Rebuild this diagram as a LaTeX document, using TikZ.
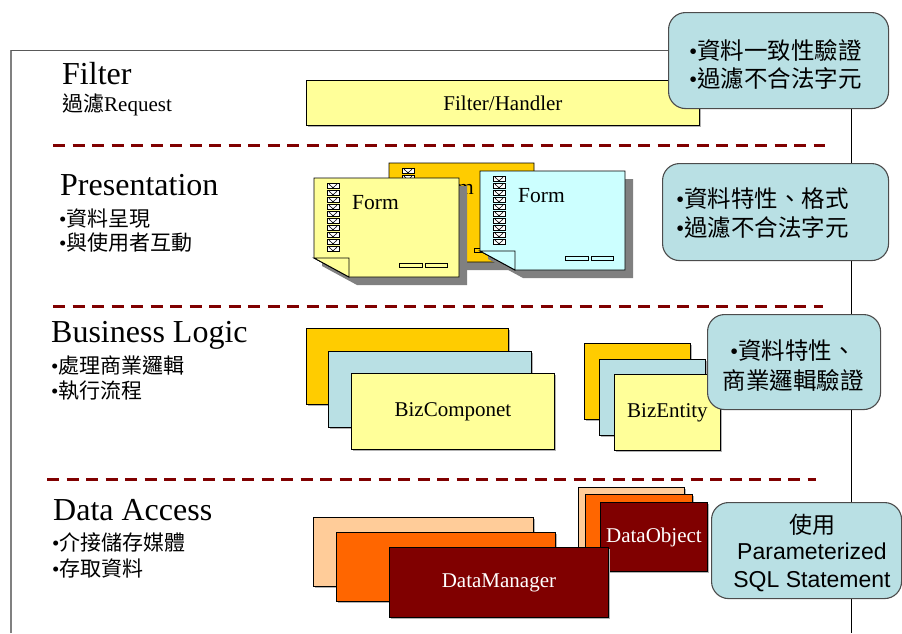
\documentclass[tikz,border=0pt]{standalone}
\usepackage{fontspec}
\setmainfont{Liberation Serif}
\newfontfamily\cjk{Noto Sans CJK TC}
\newfontfamily\arial{Liberation Sans}
\usetikzlibrary{shadows}
\definecolor{lyel}{HTML}{FFFF99}
\definecolor{gold}{HTML}{FFCC00}
\definecolor{lcyan}{HTML}{CCFFFF}
\definecolor{lblue}{RGB}{185,224,228}
\definecolor{peach}{HTML}{FFCC99}
\definecolor{orng}{HTML}{FF6600}
\definecolor{dred}{HTML}{800000}
\newcommand\bu{{\rmfamily •}}
\newcommand\drawform[4]{%
 \begin{scope}[shift={(#1,#2)}]
  \fill[gray] (8,8) -- (153,8) -- (153,107) -- (43,107) -- (8,88) -- cycle;
  \draw[fill=#3, line width=0.9pt] (0,0) -- (145,0) -- (145,99) -- (35,99) -- (0,80) -- cycle;
  \draw[fill=#3, line width=0.9pt] (0,80) -- (35,80) -- (35,99) -- cycle;
  \foreach \i in {0,...,9} {
    \draw[fill=white, line width=0.7pt] (13,5+7*\i) rectangle ++(12,5.5);
    \draw[line width=0.6pt] (15,6.2+7*\i) -- (19,9.8+7*\i) -- (23,6.2+7*\i);
  }
  \draw[fill=#3, line width=0.8pt] (85,85) rectangle (108,89);
  \draw[fill=#3, line width=0.8pt] (111,85) rectangle (133,89);
  \node[lbl, anchor=west] (#4) at (38,25) {Form};
 \end{scope}}
\begin{document}
\begin{tikzpicture}[x=1pt,y=-1pt,
  ttl/.style={font=\fontsize{32}{36}\selectfont, inner sep=0pt, anchor=base west},
  lst/.style={font=\cjk\fontsize{21}{24}\selectfont, inner sep=0pt, anchor=base west},
  lbl/.style={font=\fontsize{21.5}{24}\selectfont, inner sep=0pt},
  cl/.style={font=\cjk\fontsize{23.5}{28}\selectfont, inner sep=0pt},
  sep/.style={draw=dred, line width=3pt, dash pattern=on 12pt off 7.5pt},
  bx/.style={draw=black, line width=0.9pt, anchor=north west, inner sep=0pt,
    general shadow={fill=black!30, shadow xshift=1.5pt, shadow yshift=-1.5pt}},
  co/.style={draw=black!70, line width=1.1pt, fill=lblue, rounded corners=17pt, anchor=north west, inner sep=0pt}
]
\useasboundingbox (0,0) rectangle (902,633);
\fill[white] (0,0) rectangle (902,633);
% frame
\draw[gray, line width=1.5pt] (11,633) -- (11,50);
\draw[black!65, line width=1pt] (11,50) -- (851,50);
\draw[black, line width=0.9pt] (851,50) -- (851,633);
% separators
\draw[sep] (53,145) -- (825,145);
\draw[sep] (53,306) -- (823,306);
\draw[sep] (47,479) -- (816,479);
% left titles
\node[ttl] (tf) at (62,84) {Filter};
\node[lst, font=\fontsize{21}{24}\selectfont] (tf2) at (62,111) {{\cjk 過濾}Request};
\node[ttl] (tp) at (60,195) {Presentation};
\node[lst] (tp1) at (59,226) {\bu 資料呈現};
\node[lst] (tp2) at (59,250) {\bu 與使用者互動};
\node[ttl] (tb) at (51,342) {Business Logic};
\node[lst] (tb1) at (51,373) {\bu 處理商業邏輯};
\node[lst] (tb2) at (51,398) {\bu 執行流程};
\node[ttl] (td) at (53,520) {Data Access};
\node[lst] (td1) at (52,550) {\bu 介接儲存媒體};
\node[lst] (td2) at (52,576) {\bu 存取資料};
% filter box
\node[bx, fill=lyel, minimum width=393pt, minimum height=45pt, font=\fontsize{21}{24}\selectfont] (fh) at (306,80) {Filter/Handler};
% forms
\drawform{389}{163}{gold}{fo}
\drawform{314}{178}{lyel}{fy}
\drawform{480}{171}{lcyan}{fc}
% business
\node[bx, fill=gold, minimum width=202pt, minimum height=76pt] (bc1) at (306,328) {};
\node[bx, fill=lblue, minimum width=203pt, minimum height=76pt] (bc2) at (328,351) {};
\node[bx, fill=lyel, minimum width=203pt, minimum height=76pt, font=\fontsize{21}{24}\selectfont] (bc3) at (351,373) {BizComponet};
\node[bx, fill=gold, minimum width=106pt, minimum height=76pt] (be1) at (584,343) {};
\node[bx, fill=lblue, minimum width=106pt, minimum height=76pt] (be2) at (599,359) {};
\node[bx, fill=lyel, minimum width=106pt, minimum height=76pt, font=\fontsize{21}{24}\selectfont] (be3) at (614,374) {BizEntity};
% data access
\node[bx, fill=peach, minimum width=106pt, minimum height=69pt] (do1) at (578,487) {};
\node[bx, fill=orng, minimum width=107pt, minimum height=69pt] (do2) at (585,494) {};
\node[bx, fill=dred, minimum width=107pt, minimum height=69pt, text=white, font=\fontsize{21}{24}\selectfont] (do3) at (600,502) {DataObject};
\node[bx, fill=peach, minimum width=220pt, minimum height=69pt] (dm1) at (313,517) {};
\node[bx, fill=orng, minimum width=219pt, minimum height=69pt] (dm2) at (336,532) {};
\node[bx, fill=dred, minimum width=219pt, minimum height=70pt, text=white, font=\fontsize{21}{24}\selectfont] (dm3) at (389,547) {DataManager};
% callouts
\node[co, minimum width=220pt, minimum height=96pt] (c1) at (668,12) {};
\node[cl, anchor=base west] (c1a) at (689,59) {\bu 資料一致性驗證};
\node[cl, anchor=base west] (c1b) at (689,87) {\bu 過濾不合法字元};
\node[co, minimum width=226pt, minimum height=97pt] (c2) at (662,163) {};
\node[cl, anchor=base west] (c2a) at (676,207) {\bu 資料特性、格式};
\node[cl, anchor=base west] (c2b) at (676,236) {\bu 過濾不合法字元};
\node[co, minimum width=173pt, minimum height=95pt] (c3) at (707,314) {};
\node[cl, anchor=base] (c3a) at (793,359) {\bu 資料特性、};
\node[cl, anchor=base] (c3b) at (793,389) {商業邏輯驗證};
\node[co, minimum width=190pt, minimum height=96pt] (c4) at (711,502) {};
\node[cl, anchor=base, font=\cjk\fontsize{23}{26}\selectfont] (c4a) at (812,533) {使用};
\node[cl, anchor=base, font=\arial\fontsize{23}{26}\selectfont] (c4b) at (812,559) {Parameterized};
\node[cl, anchor=base, font=\arial\fontsize{23}{26}\selectfont] (c4c) at (812,587) {SQL Statement};
\end{tikzpicture}
\end{document}
